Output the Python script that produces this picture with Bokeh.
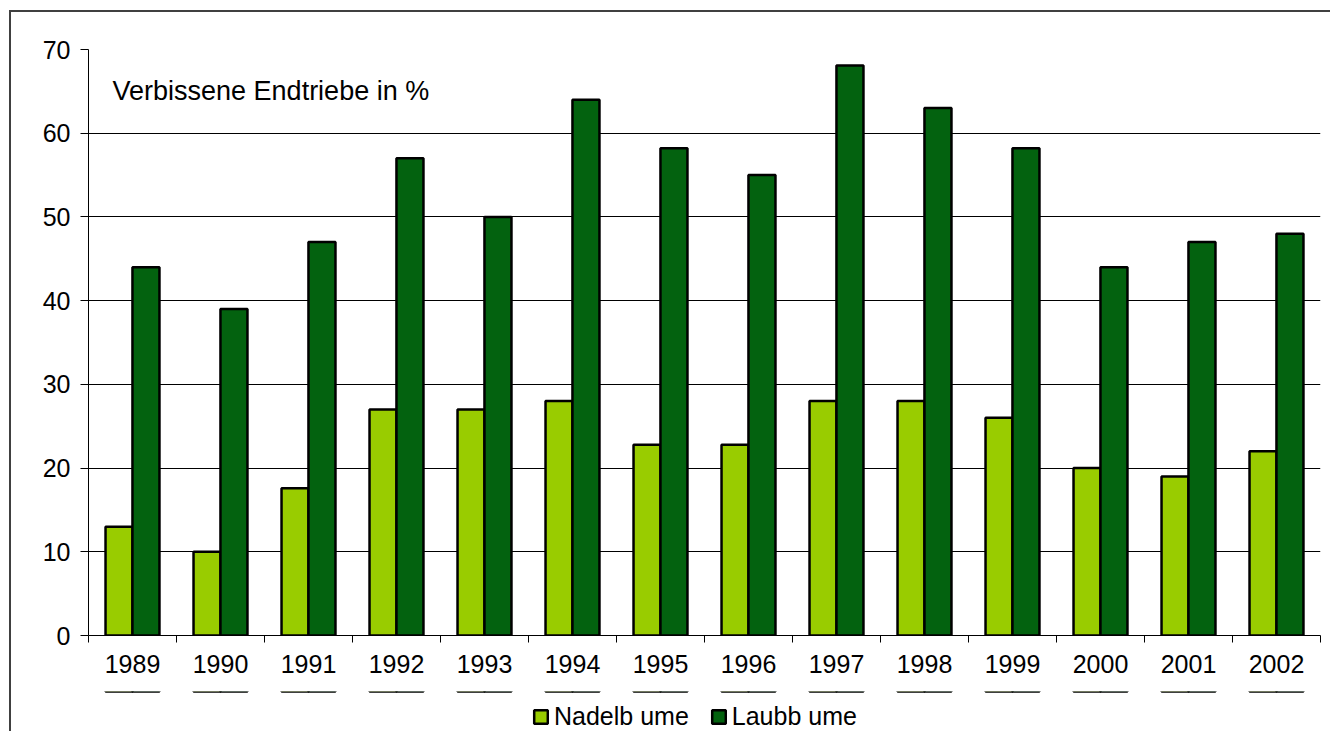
from bokeh.plotting import figure
from bokeh.layouts import column, row
from bokeh.models import (ColumnDataSource, FixedTicker, Label, Legend, LegendItem,
                          Range1d, Spacer)
from bokeh.embed import file_html
from bokeh.resources import INLINE

years = ["1989", "1990", "1991", "1992", "1993", "1994", "1995",
         "1996", "1997", "1998", "1999", "2000", "2001", "2002"]
nadel = [13, 10, 17.6, 27, 27, 28, 22.8, 22.8, 28, 28, 26, 20, 19, 22]
laub = [44, 39, 47, 57, 50, 64, 58.2, 55, 68.1, 63, 58.2, 44, 47, 48]
series_names = ["Nadelb ume", "Laubb ume"]
colors = ["#99CC00", "#03620F"]
y_ticks = [0, 10, 20, 30, 40, 50, 60, 70]
note = "Verbissene Endtriebe in %"

FONT = "Liberation Sans"
idx = list(range(len(years)))
src = ColumnDataSource(dict(
    xn=[i - 0.153 for i in idx], xl=[i + 0.153 for i in idx],
    nadel=nadel, laub=laub))

p = figure(output_backend="svg", toolbar_location=None,
           frame_width=1232, frame_height=586,
           min_border_left=77, min_border_top=37, min_border_right=10,
           min_border_bottom=56,
           x_range=Range1d(-0.5, len(years) - 0.5), y_range=Range1d(0, 70))
p.outline_line_color = None
p.background_fill_color = "white"
p.border_fill_color = "white"

w = 0.307
bar_style = dict(line_color="black", line_width=2.5)
p.vbar(x="xn", top="nadel", width=w, source=src, fill_color=colors[0], **bar_style)
p.vbar(x="xl", top="laub", width=w, source=src, fill_color=colors[1], **bar_style)

p.yaxis.ticker = FixedTicker(ticks=y_ticks)
p.yaxis.axis_line_color = "black"
p.yaxis.major_tick_in = 0
p.yaxis.major_tick_out = 8
p.yaxis.minor_tick_line_color = None
p.yaxis.major_label_text_font = FONT
p.yaxis.major_label_text_font_size = "25px"
p.yaxis.major_label_text_color = "black"
p.yaxis.major_label_standoff = 10

p.xaxis.ticker = FixedTicker(ticks=idx, minor_ticks=[i - 0.5 for i in range(len(years) + 1)])
p.xaxis.major_label_overrides = {i: y for i, y in zip(idx, years)}
p.xaxis.major_tick_line_color = None
p.xaxis.minor_tick_in = 0
p.xaxis.minor_tick_out = 7
p.xaxis.minor_tick_line_color = "black"
p.xaxis.axis_line_color = "black"
p.xaxis.major_label_text_font = FONT
p.xaxis.major_label_text_font_size = "25px"
p.xaxis.major_label_text_color = "black"
p.xaxis.major_label_standoff = 12

p.xgrid.grid_line_color = None
p.ygrid.ticker = FixedTicker(ticks=y_ticks[1:])
p.ygrid.grid_line_color = "black"
p.ygrid.grid_line_width = 1

p.add_layout(Label(x=24, y=545, x_units="screen", y_units="screen", text=note,
                   text_font=FONT, text_font_size="27px", text_color="black",
                   text_baseline="alphabetic"))

# legend strip below the chart (its renderers use the same data, kept far out of view)
lg = figure(output_backend="svg", toolbar_location=None, width=1319, height=40,
            min_border=0, x_axis_location=None, y_axis_location=None,
            x_range=p.x_range, y_range=Range1d(-100, -99))
lg.grid.visible = False
lg.outline_line_color = None
lg.border_fill_color = "white"
lg.background_fill_color = "white"
g1 = lg.vbar(x="xn", top="nadel", width=w, source=src, fill_color=colors[0], **bar_style)
g2 = lg.vbar(x="xl", top="laub", width=w, source=src, fill_color=colors[1], **bar_style)
legend = Legend(items=[LegendItem(label=series_names[0], renderers=[g1]),
                       LegendItem(label=series_names[1], renderers=[g2])],
                orientation="horizontal", location=(444, 0),
                label_text_font=FONT, label_text_font_size="25px",
                label_text_color="black",
                glyph_width=17, glyph_height=17, spacing=21, padding=0,
                label_standoff=5, border_line_color=None,
                background_fill_alpha=0, margin=0)
lg.add_layout(legend, "center")

chart = column(p, lg, styles={"border-left": "2px solid #404040",
                              "border-top": "2px solid #404040"})
layout = column(Spacer(height=10), row(Spacer(width=9), chart))
open("out.html", "w").write(file_html(layout, INLINE))
